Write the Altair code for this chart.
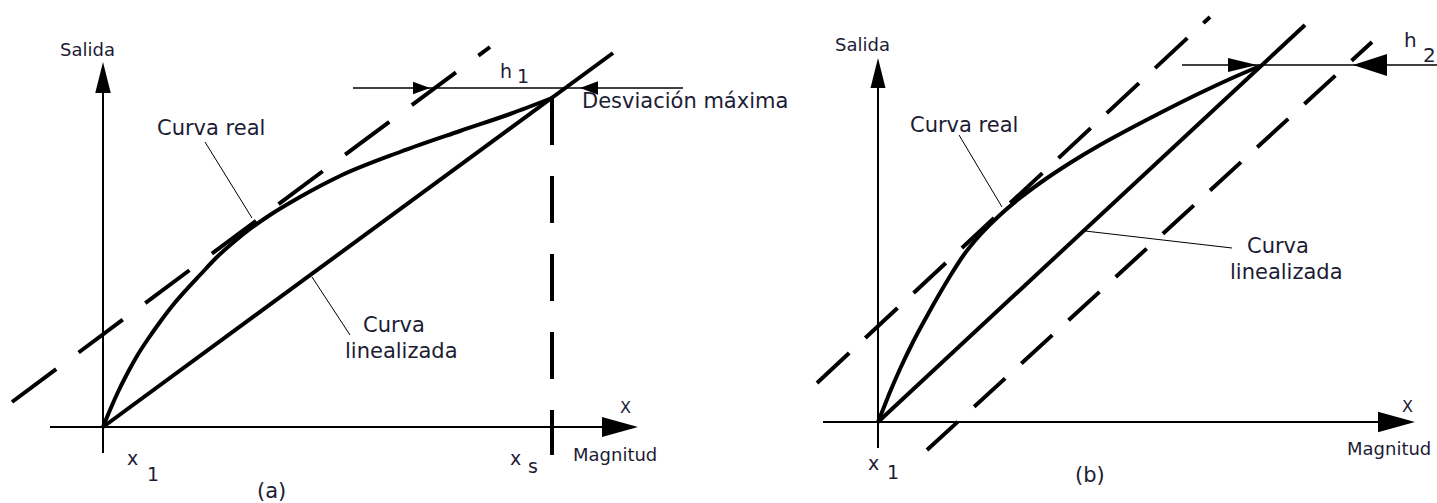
import altair as alt
import pandas as pd

W, H = 1437, 503
INK = "#000000"
TEXT_INK = "#1c1c34"
FONT = "DejaVu Sans"

# ---------------- panel (a): fit through the end points ----------------
real_a_x = [103, 110, 118, 127, 137, 148, 160, 173, 187, 200, 217, 235, 250, 270, 300, 340, 400, 460, 510, 552]
real_a_y = [427, 410, 392, 374, 356, 339, 322, 305, 289, 275, 257, 241, 229, 215, 197, 176, 152, 131, 114, 98]
lin_a_x = [103, 613]
lin_a_y = [427, 53]
tangent_a_x = [12, 490]
tangent_a_y = [402, 47]
xs_a_x = [552, 552]
xs_a_y = [98, 455]
yaxis_a_x = [103, 103]
yaxis_a_y = [90, 453]
xaxis_a_x = [50, 605]
xaxis_a_y = [427, 427]
h1_x = [353, 683]
h1_y = [88, 88]
lead_real_a_x = [205, 252]
lead_real_a_y = [142, 218]
lead_lin_a_x = [312, 350]
lead_lin_a_y = [277, 335]

# ---------------- panel (b): best straight line between two bounds ----------------
real_b_x = [878, 884, 890, 900, 913, 927, 940, 952, 963, 980, 1000, 1020, 1040, 1070, 1100, 1120, 1160, 1200, 1230, 1260]
real_b_y = [422, 407, 392, 369, 342, 316, 293, 273, 256, 235, 215, 198, 183, 163, 145, 134, 113, 93, 79, 66]
lin_b_x = [878, 1305]
lin_b_y = [422, 25]
upper_b_x = [817, 1210]
upper_b_y = [383, 17]
lower_b_x = [927, 1372]
lower_b_y = [450, 42]
yaxis_b_x = [878, 878]
yaxis_b_y = [86, 448]
xaxis_b_x = [823, 1380]
xaxis_b_y = [422, 422]
h2_x = [1182, 1437]
h2_y = [65, 65]
lead_real_b_x = [959, 1002]
lead_real_b_y = [135, 207]
lead_lin_b_x = [1085, 1232]
lead_lin_b_y = [231, 248]

# arrow heads: position, length (px), name of outline, rotation
head_x = [103, 620, 421.5, 589, 878, 1396.5, 1242.5, 1370]
head_y = [77.5, 427, 88, 88, 73, 422, 65, 65]
head_len = [31, 36, 17, 18, 30, 37, 29, 34]
head_kind = ["up", "axis", "small", "small", "up", "axis", "slim", "wide"]
head_angle = [0, 0, 0, 180, 0, 0, 0, 180]
head_paths = {
    "up": "M0,-1L0.5,1L-0.5,1Z",
    "axis": "M1,0L-1,-0.56L-1,0.56Z",
    "small": "M1,0L-1,-0.74L-1,0.74Z",
    "slim": "M1,0L-1,-0.48L-1,0.48Z",
    "wide": "M1,0L-1,-0.65L-1,0.65Z",
}

# labels: text, left x, baseline y, font size
label_text = ["Salida", "Curva real", "h", "1", "Desviación máxima", "Curva", "linealizada",
              "x", "1", "(a)", "x", "s", "X", "Magnitud",
              "Salida", "Curva real", "h", "2", "Curva", "linealizada",
              "x", "1", "(b)", "X", "Magnitud"]
label_x = [60, 157, 500, 517, 582, 363, 345,
           127, 147, 257, 510, 528, 620, 573,
           835, 910, 1404, 1423, 1247, 1230,
           868, 887, 1075, 1402, 1347]
label_y = [56, 135, 78, 83, 108, 332, 358,
           465, 481, 498, 465, 473, 413, 461,
           51, 132, 47, 62, 253, 279,
           470, 479, 482, 412, 455]
label_size = [18, 21, 19, 19, 21, 21, 21,
              19, 19, 21, 19, 19, 16, 18,
              18, 21, 20, 20, 21, 21,
              19, 19, 21, 16, 18]


def segments(groups):
    rows = []
    for name, xs, ys in groups:
        for i, (x, y) in enumerate(zip(xs, ys)):
            rows.append({"line": name, "i": i, "x": x, "y": y})
    return pd.DataFrame(rows)


curves = segments([("real_a", real_a_x, real_a_y), ("real_b", real_b_x, real_b_y)])
straight = segments([("lin_a", lin_a_x, lin_a_y), ("lin_b", lin_b_x, lin_b_y)])
dashed = segments([
    ("tangent_a", tangent_a_x, tangent_a_y), ("xs_a", xs_a_x, xs_a_y),
    ("upper_b", upper_b_x, upper_b_y), ("lower_b", lower_b_x, lower_b_y),
])
axes = segments([
    ("yaxis_a", yaxis_a_x, yaxis_a_y), ("xaxis_a", xaxis_a_x, xaxis_a_y),
    ("yaxis_b", yaxis_b_x, yaxis_b_y), ("xaxis_b", xaxis_b_x, xaxis_b_y),
])
dims = segments([("h1", h1_x, h1_y), ("h2", h2_x, h2_y)])
leaders = segments([
    ("lr_a", lead_real_a_x, lead_real_a_y), ("ll_a", lead_lin_a_x, lead_lin_a_y),
    ("lr_b", lead_real_b_x, lead_real_b_y), ("ll_b", lead_lin_b_x, lead_lin_b_y),
])
heads = pd.DataFrame({
    "x": head_x, "y": head_y,
    "size": [v * v for v in head_len],
    "path": [head_paths[k] for k in head_kind],
    "angle": head_angle,
})
labels = pd.DataFrame({"text": label_text, "x": label_x, "y": label_y, "size": label_size})

xs = alt.Scale(domain=[0, W], nice=False, zero=False)
ys = alt.Scale(domain=[H, 0], nice=False, zero=False)
X = alt.X("x:Q", scale=xs, axis=None)
Y = alt.Y("y:Q", scale=ys, axis=None)


def lines(df, width, **kw):
    return alt.Chart(df).mark_line(color=INK, strokeWidth=width, **kw).encode(
        x=X, y=Y, detail="line:N", order="i:Q"
    )


curve_layer = lines(curves, 4, interpolate="monotone", strokeJoin="round")
straight_layer = lines(straight, 4)
dashed_layer = alt.Chart(dashed).mark_line(color=INK, strokeWidth=4).encode(
    x=X, y=Y, detail="line:N", order="i:Q",
    strokeDash=alt.StrokeDash(
        "line:N",
        scale=alt.Scale(domain=["tangent_a", "xs_a", "upper_b", "lower_b"],
                        range=[[55, 28], [47, 31], [44, 22], [42, 22]]),
        legend=None,
    ),
)
axes_layer = lines(axes, 2)
dims_layer = lines(dims, 1.5)
leader_layer = lines(leaders, 1)

heads_layer = alt.Chart(heads).mark_point(filled=True, opacity=1, color=INK, strokeWidth=0).encode(
    x=X, y=Y,
    shape=alt.Shape("path:N", scale=None),
    size=alt.Size("size:Q", scale=None),
    angle=alt.Angle("angle:Q", scale=None),
)

text_layer = alt.Chart(labels).mark_text(
    align="left", baseline="alphabetic", font=FONT, color=TEXT_INK
).encode(
    x=X, y=Y, text="text:N", size=alt.Size("size:Q", scale=None),
)

chart = alt.layer(
    axes_layer, dims_layer, leader_layer, dashed_layer, straight_layer, curve_layer,
    heads_layer, text_layer
).properties(
    width=W, height=H, padding=0, autosize=alt.AutoSizeParams(type="none"),
    background="white",
).configure_view(stroke=None)

chart.save("out.html", embed_options={"renderer": "svg", "actions": False})
